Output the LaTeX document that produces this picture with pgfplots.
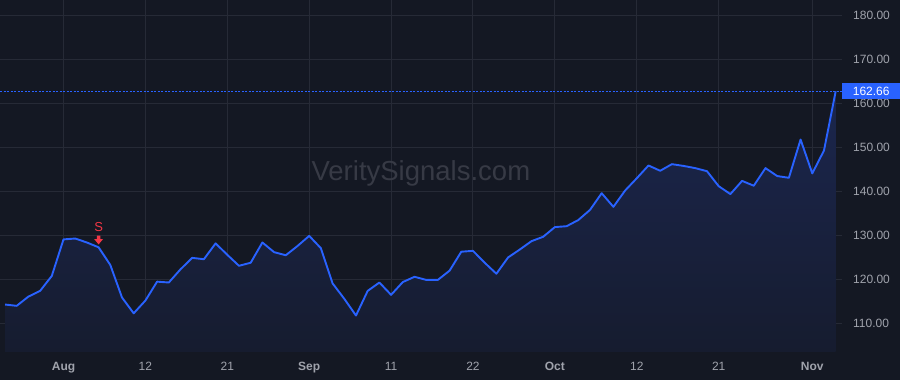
\documentclass[border=0pt]{standalone}
\usepackage{fontspec}
\setmainfont{Liberation Sans}
\usepackage{pgfplots}
\pgfplotsset{compat=1.18}
\definecolor{bgc}{RGB}{20,24,35}
\definecolor{gridc}{RGB}{38,42,54}
\definecolor{lblue}{HTML}{2962FF}
\definecolor{tickc}{RGB}{160,163,172}
\definecolor{wmc}{RGB}{55,58,69}
\definecolor{sred}{HTML}{F23645}
\definecolor{filltop}{RGB}{27,38,78}
\definecolor{fillbot}{RGB}{22,28,47}
\pgfdeclareplotmark{sarrow}{%
  \pgfpathmoveto{\pgfpoint{0pt}{2.9pt}}%
  \pgfpathlineto{\pgfpoint{4.4pt}{8.2pt}}%
  \pgfpathlineto{\pgfpoint{1.7pt}{8.2pt}}%
  \pgfpathlineto{\pgfpoint{1.7pt}{11.8pt}}%
  \pgfpathlineto{\pgfpoint{-1.7pt}{11.8pt}}%
  \pgfpathlineto{\pgfpoint{-1.7pt}{8.2pt}}%
  \pgfpathlineto{\pgfpoint{-4.4pt}{8.2pt}}%
  \pgfpathclose
  \pgfusepathqfill
  \pgftext[at=\pgfpoint{0pt}{20.4pt}]{\fontsize{13}{15}\selectfont\color{sred}S}%
}
\pgfplotstableread{
i v
0 114.2
1 113.9
2 116.0
3 117.3
4 120.7
5 129.0
6 129.2
7 128.3
8 127.2
9 123.2
10 115.8
11 112.2
12 115.1
13 119.4
14 119.2
15 122.2
16 124.8
17 124.5
18 128.1
19 125.5
20 123.0
21 123.7
22 128.3
23 126.1
24 125.4
25 127.5
26 129.8
27 127.0
28 119.0
29 115.5
30 111.7
31 117.3
32 119.2
33 116.4
34 119.3
35 120.5
36 119.8
37 119.8
38 121.9
39 126.2
40 126.4
41 123.7
42 121.2
43 124.9
44 126.7
45 128.6
46 129.6
47 131.8
48 132.0
49 133.4
50 135.7
51 139.5
52 136.4
53 140.1
54 142.9
55 145.8
56 144.6
57 146.1
58 145.7
59 145.2
60 144.5
61 141.1
62 139.3
63 142.3
64 141.2
65 145.2
66 143.4
67 143.0
68 151.7
69 144.0
70 149.2
71 162.66
}\pricedata
\begin{document}
\begin{tikzpicture}
\fill[bgc] (0,0) rectangle (900pt,380pt);
\useasboundingbox (0,0) rectangle (900pt,380pt);
\begin{axis}[
  at={(0pt,28pt)}, anchor=south west,
  scale only axis, width=842pt, height=352pt,
  xmin=-0.4274, xmax=71.54, ymin=103.41, ymax=183.41,
  axis line style={draw=none},
  major tick length=0pt,
  grid=major,
  major grid style={color=gridc, line width=1pt},
  xtick={5,12,19,26,33,40,47,54,61,69},
  xticklabels={\textbf{Aug},12,21,\textbf{Sep},11,22,\textbf{Oct},12,21,\textbf{Nov}},
  ytick={110,120,130,140,150,160,170,180},
  yticklabels={110.00,120.00,130.00,140.00,150.00,160.00,170.00,180.00},
  yticklabel pos=right,
  xticklabel style={anchor=base, inner sep=0pt, yshift=-19pt, text=tickc, font=\fontsize{12}{14}\selectfont},
  yticklabel style={anchor=west, inner sep=0pt, xshift=11pt, text=tickc, font=\fontsize{12}{14}\selectfont},
]
\addplot[draw=none, top color=filltop, bottom color=fillbot] table[x=i, y=v] {\pricedata} \closedcycle;
\addplot[lblue, dash pattern=on 2pt off 1.5pt, line width=1pt] coordinates {(-0.4274,162.66) (71.54,162.66)};
\addplot[lblue, line width=1.9pt, line join=round] table[x=i, y=v] {\pricedata};
\addplot[only marks, mark=sarrow, color=sred, mark options={fill=sred}] coordinates {(8,127.2)};
\coordinate (lastp) at (axis cs:71.54,162.66);
\end{axis}
\node[anchor=west, fill=lblue, minimum width=58pt, minimum height=16pt, inner sep=0pt, text=white, font=\fontsize{12}{14}\selectfont] at (lastp) {162.66};
\node[anchor=base, text=wmc, font=\fontsize{27.5}{30}\selectfont, inner sep=0pt] at (420.9pt,199pt) {VeritySignals.com};
\end{tikzpicture}
\end{document}
